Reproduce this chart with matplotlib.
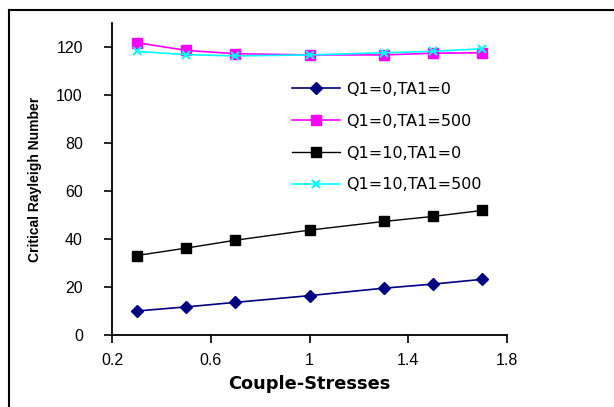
"""Critical Rayleigh number vs couple-stresses."""
import matplotlib
matplotlib.use("Agg")
import matplotlib.pyplot as plt
from matplotlib.lines import Line2D

couple_stress = [0.3, 0.5, 0.7, 1.0, 1.3, 1.5, 1.7]
ra_q0_ta0 = [10.0, 11.7, 13.6, 16.4, 19.5, 21.2, 23.2]
ra_q0_ta500 = [121.8, 118.6, 117.2, 116.7, 116.7, 117.4, 117.6]
ra_q10_ta0 = [33.1, 36.2, 39.5, 43.7, 47.3, 49.4, 51.9]
ra_q10_ta500 = [118.2, 116.8, 116.3, 116.7, 117.6, 118.2, 119.3]
labels = ["Q1=0,TA1=0", "Q1=0,TA1=500", "Q1=10,TA1=0", "Q1=10,TA1=500"]
xticks = [0.2, 0.6, 1, 1.4, 1.8]
xtick_labels = ["0.2", "0.6", "1", "1.4", "1.8"]
yticks = [0, 20, 40, 60, 80, 100, 120]

plt.rcParams["font.family"] = ["Liberation Sans", "DejaVu Sans"]

W, H = 614, 407
fig = plt.figure(figsize=(W / 100, H / 100), dpi=100)
ax = fig.add_axes([112 / W, 1 - 335 / H, 395 / W, 312 / H])

ax.plot(couple_stress, ra_q0_ta0, color="#000080", marker="D", markersize=6, lw=1.2, label=labels[0])
ax.plot(couple_stress, ra_q0_ta500, color="#FF00FF", marker="s", markersize=7, lw=1.2, label=labels[1])
ax.plot(couple_stress, ra_q10_ta0, color="black", marker="s", markersize=7, lw=1.0, label=labels[2])
ax.plot(couple_stress, ra_q10_ta500, color="#00FFFF", marker="x", markersize=6, mew=1.5, lw=1.2, label=labels[3])

ax.set_xlim(0.2, 1.8)
ax.set_ylim(0, 130)
ax.set_xticks(xticks)
ax.set_xticklabels(xtick_labels)
ax.set_yticks(yticks)
ax.tick_params(direction="out", length=6, width=1.2, labelsize=11.5)
ax.tick_params(axis="y", pad=15)
ax.tick_params(axis="x", pad=7)
for side in ("top", "right"):
    ax.spines[side].set_visible(False)
for side in ("left", "bottom"):
    ax.spines[side].set_linewidth(1.3)

ax.set_xlabel("Couple-Stresses", fontsize=12.8, fontweight="bold",
              family=["DejaVu Sans"], labelpad=5)
ax.set_ylabel("Critical Rayleigh Number", fontsize=10, fontweight="bold", labelpad=10)

ax.legend(loc="upper left", bbox_to_anchor=((292 - 112) / 395, (335 - 82) / 312),
          frameon=False, prop={"family": "DejaVu Sans", "size": 11.5},
          handlelength=3.0, handletextpad=0.4,
          labelspacing=1.05, borderpad=0, borderaxespad=0)

# outer frame (cropped at right and bottom)
fig.add_artist(Line2D([9 / W, 1.0], [1 - 10 / H, 1 - 10 / H], color="black", lw=1.5))
fig.add_artist(Line2D([9 / W, 9 / W], [0, 1 - 10 / H], color="black", lw=1.5))

fig.savefig("out.png", dpi=100)
